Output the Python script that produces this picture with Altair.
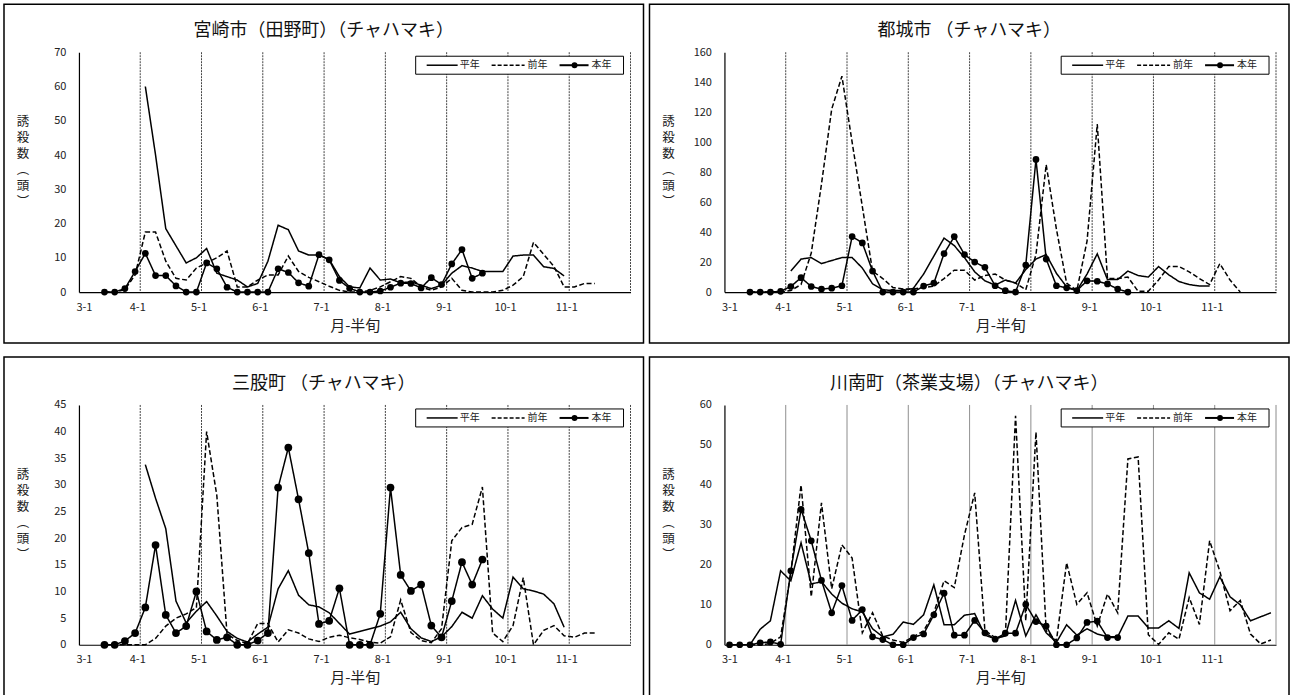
import altair as alt
import pandas as pd

# ---------------- shared axis / label data ----------------
MONTH_TICKS = ["3-1", "4-1", "5-1", "6-1", "7-1", "8-1", "9-1", "10-1", "11-1"]
HALF_PENTADS_PER_MONTH = 6
N_HALF_PENTADS = 54          # axis runs from 3-1 to 12-1
SERIES_NAMES = ["平年", "前年", "本年"]
Y_TITLE_CHARS = ["誘", "殺", "数", "︵", "頭", "︶"]
X_TITLE = "月-半旬"

# ---------------- 宮崎市(田野町) ----------------
MIYAZAKI_TITLE = "宮崎市（田野町）（チャハマキ）"
MIYAZAKI_HEINEN_START = 6
MIYAZAKI_HEINEN = [60, 40, 18.5, 13.5, 8.5, 10, 12.7, 5.5, 4.5, 3.5, 1.5, 2.5, 9, 19.5,
                   18.2, 12, 10.8, 10.8, 9.5, 4.5, 1.5, 1.2, 7, 3.5, 3.8, 2.7, 3, 2, 1, 2,
                   5.5, 7.7, 7, 6, 6, 6, 10.5, 10.8, 10.8, 7.4, 6.9, 4.7]
MIYAZAKI_ZENNEN_START = 2
MIYAZAKI_ZENNEN = [0, 0, 0.7, 5, 17.5, 17.5, 9, 4, 3.5, 7, 8.5, 10, 12, 1.5, 1.5, 3.5, 5, 5,
                   10.5, 6, 4.3, 3, 1.7, 0.5, 0, 0, 0.5, 1.5, 3, 4.5, 4, 1.5, 0.5, 1.5, 4,
                   0.5, 0, 0, 0, 0.5, 2, 4.5, 14.5, 11, 7.5, 1.5, 1.5, 2.5, 2.5]
MIYAZAKI_HONNEN_START = 2
MIYAZAKI_HONNEN = [0, 0, 1, 6, 11.3, 4.8, 4.8, 1.8, 0, 0, 8.5, 6.8, 1.4, 0, 0, 0, 0, 6.8,
                   5.7, 2.7, 1.7, 10.9, 9.4, 3.4, 1.1, 0, 0, 0.3, 1.4, 2.6, 2.5, 1.2, 4.2,
                   2.2, 8.2, 12.4, 4, 5.5]

# ---------------- 都城市 ----------------
MIYAKONOJO_TITLE = "都城市 （チャハマキ）"
MIYAKONOJO_HEINEN_START = 6
MIYAKONOJO_HEINEN = [14, 22, 23, 19, 21, 23, 23, 16, 5.5, 1.5, 1, 1, 2.5, 12, 24, 36, 31, 23,
                     13.5, 7.5, 4.6, 8, 6, 15, 22, 25, 12.5, 3.5, 1, 12, 25.5, 8.3, 8.3, 14,
                     11, 10, 17, 11.5, 7, 5, 4, 4]
MIYAKONOJO_ZENNEN_START = 2
MIYAKONOJO_ZENNEN = [0, 0, 0, 0, 1, 5, 26, 72, 122, 144, 100, 57, 14, 9, 3, 2, 2, 3, 4, 9,
                     14.6, 14.6, 8, 11, 12, 8, 6, 1.5, 25, 85, 42, 6, 1, 34, 112, 9, 9, 10,
                     0.5, 0.5, 8, 17, 17, 13.5, 9, 5, 19, 8, 0]
MIYAKONOJO_HONNEN_START = 2
MIYAKONOJO_HONNEN = [0, 0, 0, 0.5, 3.7, 9.6, 3.7, 2, 2.6, 4.2, 37, 32.8, 14, 0, 0, 0, 0, 4,
                     6, 25.6, 37, 25, 20, 16.5, 4.2, 0.9, 0, 18, 88.5, 22, 4.2, 2.8, 1, 7.5,
                     7.2, 5.4, 2, 0]

# ---------------- 三股町 ----------------
MIMATA_TITLE = "三股町 （チャハマキ）"
MIMATA_HEINEN_START = 6
MIMATA_HEINEN = [33.8, 27.5, 21.8, 8.2, 4.1, 6.3, 8.1, 5.4, 2.5, 1.2, 0.5, 2, 3.3, 10.5, 13.9,
                 9.3, 7.5, 7.1, 6, 4, 2, 2.5, 3, 3.5, 4.3, 6.1, 3, 1.3, 0.6, 1.5, 3.4, 6.1,
                 5, 9.2, 6.7, 5, 12.7, 10.5, 10.1, 9.5, 7.7, 3.3]
MIMATA_ZENNEN_START = 2
MIMATA_ZENNEN = [0, 0, 0, 0, 0, 1.2, 3.5, 5, 5.8, 7, 40, 28, 2, 0.8, 0.2, 4, 4, 0.5, 2.8,
                 2.2, 1.1, 0.6, 1.4, 1.8, 1.3, 1, 0.5, 0.3, 1.5, 8.4, 2.3, 0.8, 0.4, 3, 19.5,
                 22, 22.6, 29.6, 2.2, 0.6, 3.6, 12.6, 0, 2.7, 3.6, 1.7, 1.4, 2.2, 2.2]
MIMATA_HONNEN_START = 2
MIMATA_HONNEN = [0, 0, 0.7, 2.2, 7, 18.7, 5.6, 2.2, 3.5, 10, 2.5, 0.9, 1.4, 0, 0, 0.8, 2.2,
                 29.5, 37, 27.3, 17.2, 3.9, 4.5, 10.6, 0, 0, 0, 5.8, 29.5, 13.1, 10.1, 11.3,
                 3.6, 1.4, 8.2, 15.5, 11.3, 16]

# ---------------- 川南町(茶業支場) ----------------
KAWAMINAMI_TITLE = "川南町（茶業支場）（チャハマキ）"
KAWAMINAMI_HEINEN_START = 2
KAWAMINAMI_HEINEN = [0, 3.9, 6, 18.5, 16, 25.5, 15.2, 15.8, 12.7, 10.4, 9, 8.2, 4, 2, 2.6,
                     5.7, 5.1, 7.5, 15, 5, 5, 7.4, 7.8, 2.4, 1.5, 2.2, 11.1, 2.2, 7.5, 3, 0.6,
                     5, 2.4, 4, 2.7, 2, 2, 7.2, 7.2, 4.2, 4.2, 6, 4.1, 18, 13, 11.4, 17, 12,
                     10, 6, 7, 8]
KAWAMINAMI_ZENNEN_START = 2
KAWAMINAMI_ZENNEN = [0, 0, 0.3, 2, 18, 40, 12, 35.5, 14, 25, 21.7, 3, 8, 2.2, 1.2, 0.6, 2,
                     3.5, 8, 16, 14.3, 27.5, 38, 3.6, 1.8, 2.2, 57.3, 6, 53.2, 3.5, 1, 20.5,
                     10.1, 13, 4.7, 12.7, 8, 46.5, 47, 2.5, 0.1, 3, 1.4, 11.8, 5.1, 26, 18.4,
                     8.5, 11.1, 2.7, 0.2, 1.2]
KAWAMINAMI_HONNEN_START = 0
KAWAMINAMI_HONNEN = [0, 0, 0, 0.5, 0.7, 0.1, 18.5, 33.9, 26, 16.1, 8, 14.8, 6.1, 8.8, 2, 1.3,
                     0, 0, 1.8, 2.7, 7.5, 12.9, 2.4, 2.4, 6.1, 3, 1.4, 2.9, 2.9, 10.1, 5.8,
                     4.7, 0, 0, 1.7, 5.6, 5.9, 1.8, 1.8]

# ---------------- layout constants ----------------
W, H = 552, 240
FONT = "Noto Sans CJK JP"
LEFT_PAD, RIGHT_PAD, TOP_PAD, BOTTOM_PAD = 75, 13, 48, 51
Y_TITLE_LINE = 16

LABEL_EXPR = "[" + ",".join("'" + t + "'" for t in MONTH_TICKS) + "][datum.value / %d]" % HALF_PENTADS_PER_MONTH
ONE = pd.DataFrame({"one": [0]})


def series_frame(parts):
    rows = []
    for name, (start, vals) in zip(SERIES_NAMES, parts):
        for i, v in enumerate(vals):
            rows.append({"k": start + i + 0.5, "v": v, "s": name})
    return pd.DataFrame(rows)


def panel(title, heinen, zennen, honnen, y_max, y_step, grid_color, grid_dash, pt_size):
    df = series_frame([heinen, zennen, honnen])
    xscale = alt.Scale(domain=[0, N_HALF_PENTADS], nice=False, zero=False)
    yscale = alt.Scale(domain=[0, y_max], nice=False, zero=True)
    xaxis = alt.Axis(values=[i * HALF_PENTADS_PER_MONTH for i in range(len(MONTH_TICKS))],
                     labelExpr=LABEL_EXPR, title=X_TITLE, grid=False, ticks=False,
                     labelPadding=9, labelOffset=-3, titlePadding=6, titleFontSize=15,
                     titleFontWeight="normal", titleFont=FONT, labelFont=FONT,
                     labelFontSize=11, labelColor="#222", titleColor="#222",
                     domainColor="black", domainWidth=1.2)
    yaxis = alt.Axis(values=list(range(0, y_max + 1, y_step)), title=None, grid=False,
                     ticks=False, labelPadding=13, labelFont=FONT, labelFontSize=11,
                     labelColor="#222", domainColor="black", domainWidth=1.2)

    grid_df = pd.DataFrame({"k": [HALF_PENTADS_PER_MONTH * i for i in range(1, len(MONTH_TICKS) + 1)]})
    grid = alt.Chart(grid_df).mark_rule(color=grid_color, strokeWidth=1, strokeDash=grid_dash).encode(
        x=alt.X("k:Q", scale=xscale, axis=xaxis)
    )

    lines = alt.Chart(df).mark_line(color="black").encode(
        x=alt.X("k:Q", scale=xscale, axis=xaxis),
        y=alt.Y("v:Q", scale=yscale, axis=yaxis),
        strokeDash=alt.StrokeDash("s:N", scale=alt.Scale(domain=SERIES_NAMES,
                                  range=[[1, 0], [5, 2.5], [1, 0]]), legend=None),
        strokeWidth=alt.StrokeWidth("s:N", scale=alt.Scale(domain=SERIES_NAMES,
                                    range=[1.5, 1.5, 2]), legend=None),
    )
    points = alt.Chart(df).transform_filter(alt.datum.s == SERIES_NAMES[2]).mark_point(
        filled=True, shape="circle", size=pt_size, color="black", opacity=1
    ).encode(x=alt.X("k:Q", scale=xscale, axis=xaxis), y=alt.Y("v:Q", scale=yscale, axis=yaxis))

    # frame around whole panel
    frame = alt.Chart(ONE).mark_rect(fillOpacity=0, stroke="black", strokeWidth=1.5).encode(
        x=alt.value(-LEFT_PAD), x2=alt.value(W + RIGHT_PAD),
        y=alt.value(-TOP_PAD), y2=alt.value(H + BOTTOM_PAD))
    ttl = alt.Chart(ONE).mark_text(text=title, font=FONT, fontSize=18, align="center",
                                   baseline="middle", color="#111").encode(
        x=alt.value((W + RIGHT_PAD - LEFT_PAD) / 2), y=alt.value(-21))
    n_lines = len(Y_TITLE_CHARS)
    ytitle = alt.Chart(ONE).mark_text(text=Y_TITLE_CHARS, font=FONT, fontSize=12.5,
                                      lineHeight=Y_TITLE_LINE, align="center",
                                      baseline="middle", color="#222").encode(
        x=alt.value(-56), y=alt.value(110 - (n_lines - 1) * Y_TITLE_LINE / 2))

    # legend (drawn inside the plot, top right)
    x0 = W - 215
    ly = 13
    leg_box = alt.Chart(ONE).mark_rect(fill="white", stroke="black", strokeWidth=1).encode(
        x=alt.value(x0), x2=alt.value(W - 7), y=alt.value(4), y2=alt.value(22))
    leg_l1 = alt.Chart(ONE).mark_rule(color="black", strokeWidth=1.5).encode(
        x=alt.value(x0 + 11), x2=alt.value(x0 + 42), y=alt.value(ly))
    leg_l2 = alt.Chart(ONE).mark_rule(color="black", strokeWidth=1.5, strokeDash=[4, 2]).encode(
        x=alt.value(x0 + 76), x2=alt.value(x0 + 109), y=alt.value(ly))
    leg_l3 = alt.Chart(ONE).mark_rule(color="black", strokeWidth=2).encode(
        x=alt.value(x0 + 144), x2=alt.value(x0 + 173), y=alt.value(ly))
    leg_pt = alt.Chart(ONE).mark_point(filled=True, shape="circle", size=35, color="black",
                                       opacity=1).encode(x=alt.value(x0 + 159), y=alt.value(ly))
    leg_texts = [
        alt.Chart(ONE).mark_text(text=name, font=FONT, fontSize=10, align="left",
                                 baseline="middle", color="#222").encode(
            x=alt.value(x0 + dx), y=alt.value(ly))
        for name, dx in zip(SERIES_NAMES, [44, 112, 176])
    ]

    return alt.layer(grid, leg_box, lines, points, frame, ttl, ytitle,
                     leg_l1, leg_l2, leg_l3, leg_pt, *leg_texts).properties(width=W, height=H)


p1 = panel(MIYAZAKI_TITLE,
           (MIYAZAKI_HEINEN_START, MIYAZAKI_HEINEN),
           (MIYAZAKI_ZENNEN_START, MIYAZAKI_ZENNEN),
           (MIYAZAKI_HONNEN_START, MIYAZAKI_HONNEN),
           70, 10, "#444", [2, 1], 45)
p2 = panel(MIYAKONOJO_TITLE,
           (MIYAKONOJO_HEINEN_START, MIYAKONOJO_HEINEN),
           (MIYAKONOJO_ZENNEN_START, MIYAKONOJO_ZENNEN),
           (MIYAKONOJO_HONNEN_START, MIYAKONOJO_HONNEN),
           160, 20, "#444", [2, 1], 45)
p3 = panel(MIMATA_TITLE,
           (MIMATA_HEINEN_START, MIMATA_HEINEN),
           (MIMATA_ZENNEN_START, MIMATA_ZENNEN),
           (MIMATA_HONNEN_START, MIMATA_HONNEN),
           45, 5, "#444", [2, 1], 60)
p4 = panel(KAWAMINAMI_TITLE,
           (KAWAMINAMI_HEINEN_START, KAWAMINAMI_HEINEN),
           (KAWAMINAMI_ZENNEN_START, KAWAMINAMI_ZENNEN),
           (KAWAMINAMI_HONNEN_START, KAWAMINAMI_HONNEN),
           60, 10, "#8a8a8a", [1, 0], 45)

chart = alt.vconcat(
    alt.hconcat(p1, p2, spacing=4),
    alt.hconcat(p3, p4, spacing=4),
    spacing=12,
).properties(
    padding={"left": 3, "top": 3, "right": 0, "bottom": 0},
    background="white",
).configure_view(strokeWidth=0)

chart.save("out.html", embed_options={"renderer": "svg", "actions": False})
